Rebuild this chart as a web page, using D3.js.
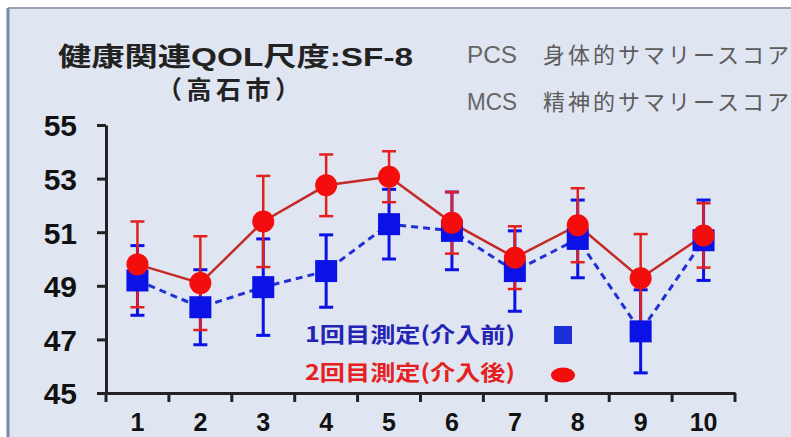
<!DOCTYPE html>
<html>
<head>
<meta charset="utf-8">
<script src="https://cdn.jsdelivr.net/npm/d3@7/dist/d3.min.js"></script>
<style>
  html, body { margin: 0; padding: 0; background: #ffffff; }
  svg { display: block; }
</style>
</head>
<body>
<svg id="chart" width="791" height="437"></svg>
<script>
// Survey rounds (x categories)
const categories = ["1", "2", "3", "4", "5", "6", "7", "8", "9", "10"];

// 1st measurement (before intervention): mean and ± error
const firstMean = [49.2, 48.2, 48.95, 49.55, 51.3, 51.05, 49.55, 50.75, 47.3, 50.7];
const firstErr  = [1.3, 1.4, 1.8, 1.35, 1.3, 1.45, 1.5, 1.45, 1.55, 1.5];

// 2nd measurement (after intervention): mean and ± error
const secondMean = [49.8, 49.1, 51.4, 52.75, 53.07, 51.35, 50.05, 51.26, 49.28, 50.88];
const secondErr  = [1.6, 1.75, 1.7, 1.15, 0.95, 1.15, 1.17, 1.38, 1.65, 1.2];

const yTicks = [45, 47, 49, 51, 53, 55];

const titleText = "健康関連QOL尺度:SF-8";
const subtitleText = "（高石市）";
const noteLabels = ["PCS", "MCS"];
const noteTexts = ["身体的サマリースコア", "精神的サマリースコア"];
const legendLabels = ["1回目測定(介入前)", "2回目測定(介入後)"];

const BLUE = "#0b12e6";
const BLUE_LINE = "#2130d4";
const BLUE_TEXT = "#2424b4";
const RED = "#f30d0d";
const RED_LINE = "#c42a26";
const RED_BAR = "#e4201e";
const RED_TEXT = "#e62020";

const svg = d3.select("#chart");
const latin = "'Liberation Sans', Arial, 'Noto Sans CJK JP', sans-serif";
const cjk = "'Noto Sans CJK JP', 'Liberation Sans', sans-serif";

// panel background with frame on top/left
svg.append("rect").attr("x", 8).attr("y", 8).attr("width", 800).attr("height", 440)
  .attr("fill", "#dfe5f1");
svg.append("line").attr("x1", 8).attr("x2", 791).attr("y1", 8).attr("y2", 8)
  .attr("stroke", "#9aa3b5").attr("stroke-width", 2);
svg.append("line").attr("x1", 8).attr("x2", 8).attr("y1", 8).attr("y2", 437)
  .attr("stroke", "#7b88a8").attr("stroke-width", 3);

const x = d3.scaleBand().domain(categories).range([106, 735]);
const y = d3.scaleLinear().domain([45, 55]).range([393, 125]);
const cx = d => x(d) + x.bandwidth() / 2;

// titles
svg.append("text").attr("x", 58).attr("y", 66)
  .attr("font-family", latin).attr("font-weight", "bold").attr("font-size", 26)
  .attr("fill", "#222").attr("textLength", 355).attr("lengthAdjust", "spacingAndGlyphs")
  .text(titleText);
svg.append("text").attr("x", 157).attr("y", 99)
  .attr("font-family", cjk).attr("font-weight", "bold").attr("font-size", 25)
  .attr("fill", "#222").attr("textLength", 143).attr("lengthAdjust", "spacing")
  .text(subtitleText);

// notes top right
const noteY = [63, 110];
noteLabels.forEach((t, i) => {
  svg.append("text").attr("x", 467).attr("y", noteY[i])
    .attr("font-family", latin).attr("font-size", 23).attr("fill", "#666")
    .attr("textLength", 50).attr("lengthAdjust", "spacingAndGlyphs").text(t);
  svg.append("text").attr("x", 543).attr("y", noteY[i])
    .attr("font-family", cjk).attr("font-size", 22).attr("fill", "#5c5c5c")
    .attr("letter-spacing", 3).text(noteTexts[i]);
});

// y axis
const yAxis = svg.append("g").attr("transform", "translate(106,0)")
  .call(d3.axisLeft(y).tickValues(yTicks).tickFormat(d3.format("d"))
    .tickSize(9).tickSizeOuter(0).tickPadding(20));
yAxis.select(".domain").attr("stroke", "#222").attr("stroke-width", 3);
yAxis.selectAll(".tick line").attr("stroke", "#222").attr("stroke-width", 3);
yAxis.selectAll(".tick text").attr("font-family", latin).attr("font-weight", "bold")
  .attr("font-size", 30).attr("fill", "#111").attr("dy", "0.36em");

// x axis: labels at band centres, ticks at band boundaries
const xAxis = svg.append("g").attr("transform", "translate(0,393)")
  .call(d3.axisBottom(x).tickSize(0).tickSizeOuter(0).tickPadding(0));
xAxis.select(".domain").attr("stroke", "#222").attr("stroke-width", 3);
xAxis.selectAll(".tick text").attr("font-family", latin).attr("font-weight", "bold")
  .attr("font-size", 25).attr("fill", "#111").attr("dy", null).attr("y", 38);
const bounds = categories.map(d => x(d)).concat([x.range()[1]]);
xAxis.selectAll("line.bound").data(bounds).join("line").attr("class", "bound")
  .attr("x1", d => d).attr("x2", d => d).attr("y1", 0).attr("y2", 9)
  .attr("stroke", "#222").attr("stroke-width", 3);

// build rows for a series
const rowsOf = (mean, err) => categories.map((c, i) => ({ c, m: mean[i], e: err[i] }));
const rows1 = rowsOf(firstMean, firstErr);
const rows2 = rowsOf(secondMean, secondErr);
const line = d3.line().x(d => cx(d.c)).y(d => y(d.m));

// connecting lines
svg.append("path").datum(rows1).attr("d", line).attr("fill", "none")
  .attr("stroke", BLUE_LINE).attr("stroke-width", 3).attr("stroke-dasharray", "7,5");
svg.append("path").datum(rows2).attr("d", line).attr("fill", "none")
  .attr("stroke", RED_LINE).attr("stroke-width", 2.5);

// error bars
function errorBars(rows, color, width) {
  const eb = svg.append("g").selectAll("g").data(rows).join("g");
  eb.append("line").attr("x1", d => cx(d.c)).attr("x2", d => cx(d.c))
    .attr("y1", d => y(d.m + d.e)).attr("y2", d => y(d.m - d.e))
    .attr("stroke", color).attr("stroke-width", width);
  [1, -1].forEach(s => {
    eb.append("line").attr("x1", d => cx(d.c) - 7).attr("x2", d => cx(d.c) + 7)
      .attr("y1", d => y(d.m + s * d.e)).attr("y2", d => y(d.m + s * d.e))
      .attr("stroke", color).attr("stroke-width", width);
  });
}
errorBars(rows1, BLUE, 3);
errorBars(rows2, RED_BAR, 2.5);

// markers
svg.append("g").selectAll("rect").data(rows1).join("rect")
  .attr("x", d => cx(d.c) - 11).attr("y", d => y(d.m) - 11)
  .attr("width", 22).attr("height", 22).attr("fill", BLUE);
svg.append("g").selectAll("circle").data(rows2).join("circle")
  .attr("cx", d => cx(d.c)).attr("cy", d => y(d.m)).attr("r", 11).attr("fill", RED);

// legend
svg.append("text").attr("x", 305).attr("y", 342)
  .attr("font-family", cjk).attr("font-weight", "bold").attr("font-size", 21)
  .attr("fill", BLUE_TEXT).attr("textLength", 210).attr("lengthAdjust", "spacingAndGlyphs")
  .text(legendLabels[0]);
svg.append("text").attr("x", 305).attr("y", 380)
  .attr("font-family", cjk).attr("font-weight", "bold").attr("font-size", 21)
  .attr("fill", RED_TEXT).attr("textLength", 210).attr("lengthAdjust", "spacingAndGlyphs")
  .text(legendLabels[1]);
svg.append("rect").attr("x", 554).attr("y", 326).attr("width", 18).attr("height", 18)
  .attr("fill", "#1a2fd8");
svg.append("ellipse").attr("cx", 563).attr("cy", 375).attr("rx", 12).attr("ry", 7.5)
  .attr("fill", RED);
</script>
</body>
</html>
